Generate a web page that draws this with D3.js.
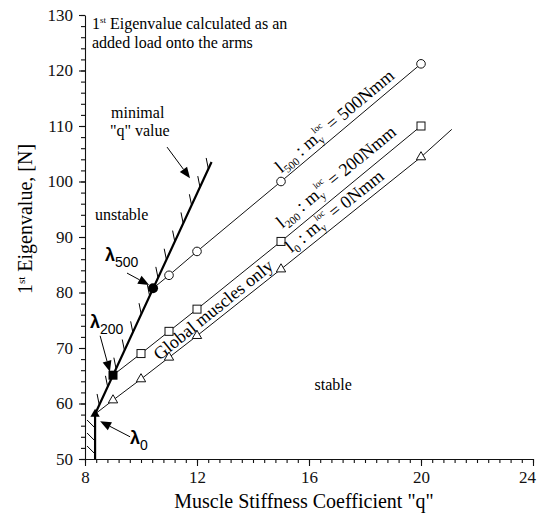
<!DOCTYPE html>
<html>
<head>
<meta charset="utf-8">
<script src="https://cdn.jsdelivr.net/npm/d3@7"></script>
<style>
body { margin: 0; background: #fff; }
svg { font-family: "Liberation Serif", "Times New Roman", serif; }
</style>
</head>
<body>
<div id="chart"></div>
<script>
const qTicks = [8, 12, 16, 20, 24];
const eTicks = [50, 60, 70, 80, 90, 100, 110, 120, 130];

// critical points (minimal q) for l0, l200, l500
const critQ = [8.36, 9.0, 10.43];
const critE = [58.1, 65.1, 80.75];

// l500 series (circles)
const q500 = [11, 12, 15, 20];
const e500 = [83.1, 87.4, 100.0, 121.2];
// l200 series (squares)
const q200 = [10, 11, 12, 15, 20];
const e200 = [69.0, 73.0, 77.0, 89.2, 110.0];
// l0 series (triangles), line runs a bit past the last marker
const q0 = [9, 10, 11, 12, 15, 20];
const e0 = [60.6, 64.4, 68.3, 72.2, 84.2, 104.4];
const q0End = 21.1, e0End = 109.4;

// stability boundary ("minimal q")
const boundQ = [8.36, 8.36, 12.52];
const boundE = [50, 58.1, 103.5];

const width = 540, height = 519;

const x = d3.scaleLinear().domain([8, 24]).range([85, 533]);
const y = d3.scaleLinear().domain([50, 130]).range([459, 15]);

const svg = d3.select("#chart").append("svg")
    .attr("width", width)
    .attr("height", height);

// ---- axes ----
const yMinor = svg.append("g")
    .attr("transform", `translate(${x(8)},0)`)
    .call(d3.axisLeft(y).tickValues(d3.range(50, 131, 2)).tickSize(4).tickSizeOuter(0).tickFormat(""));
yMinor.select(".domain").remove();

const yAxis = svg.append("g")
    .attr("transform", `translate(${x(8)},0)`)
    .call(d3.axisLeft(y).tickValues(eTicks).tickSize(6).tickSizeOuter(0).tickPadding(6));

const xMinor = svg.append("g")
    .attr("transform", `translate(0,${y(50)})`)
    .call(d3.axisBottom(x).tickValues(d3.range(8, 24.01, 0.4)).tickSize(4).tickSizeOuter(0).tickFormat(""));
xMinor.select(".domain").remove();

const xAxis = svg.append("g")
    .attr("transform", `translate(0,${y(50)})`)
    .call(d3.axisBottom(x).tickValues(qTicks).tickSize(7).tickSizeOuter(0).tickPadding(5));
// last label sits at the page edge
xAxis.selectAll(".tick text").filter(d => d === 24).attr("dx", -6);

svg.selectAll(".tick text")
    .style("font-family", "'Liberation Serif', serif")
    .style("font-size", "17px")
    .attr("fill", "#111");
svg.selectAll(".domain, .tick line").attr("stroke", "#111").attr("stroke-width", 1.1);

// axis titles
svg.append("text")
    .attr("x", 304)
    .attr("y", 508)
    .attr("text-anchor", "middle")
    .style("font-size", "20px")
    .text('Muscle Stiffness Coefficient "q"');

const yTitle = svg.append("text")
    .attr("transform", "translate(32,219) rotate(-90)")
    .attr("text-anchor", "middle")
    .style("font-size", "20px");
yTitle.append("tspan").text("1");
yTitle.append("tspan").attr("dy", -7).style("font-size", "11px").text("st");
yTitle.append("tspan").attr("dy", 7).text(" Eigenvalue, [N]");

// ---- lines ----
const line = d3.line().x(d => x(d[0])).y(d => y(d[1]));

const pts500 = [[critQ[2], critE[2]]].concat(q500.map((q, i) => [q, e500[i]]));
const pts200 = [[critQ[1], critE[1]]].concat(q200.map((q, i) => [q, e200[i]]));
const pts0 = [[critQ[0], critE[0]]].concat(q0.map((q, i) => [q, e0[i]]), [[q0End, e0End]]);

[pts500, pts200, pts0].forEach(p => {
    svg.append("path")
        .attr("d", line(p))
        .attr("fill", "none")
        .attr("stroke", "#111")
        .attr("stroke-width", 1);
});

// boundary line
const bound = boundQ.map((q, i) => [q, boundE[i]]);
svg.append("path")
    .attr("d", line(bound))
    .attr("fill", "none")
    .attr("stroke", "#000")
    .attr("stroke-width", 2.2);

// hatching on the unstable side
const hatch = [];
{
    const xa = x(boundQ[0]), ya0 = y(boundE[0]), yb0 = y(boundE[1]);
    for (let yy = ya0 - 5; yy > yb0 + 3; yy -= 13) {
        hatch.push([xa, yy, xa - 8, yy - 8]);
    }
    const x1 = x(boundQ[1]), y1 = y(boundE[1]), x2 = x(boundQ[2]), y2 = y(boundE[2]);
    const L = Math.hypot(x2 - x1, y2 - y1);
    const ux = (x2 - x1) / L, uy = (y2 - y1) / L;
    for (let t = 10; t < L - 2; t += 20) {
        const px = x1 + ux * t, py = y1 + uy * t;
        hatch.push([px, py, px - 2.2, py - 11]);
    }
}
svg.append("g").selectAll("line")
    .data(hatch)
    .join("line")
    .attr("x1", d => d[0]).attr("y1", d => d[1])
    .attr("x2", d => d[2]).attr("y2", d => d[3])
    .attr("stroke", "#000")
    .attr("stroke-width", 1);

// ---- markers ----
const tri = d3.symbol().type(d3.symbolTriangle).size(38);
svg.append("g").selectAll("circle")
    .data(q500.map((q, i) => [q, e500[i]]))
    .join("circle")
    .attr("cx", d => x(d[0])).attr("cy", d => y(d[1]))
    .attr("r", 4.3)
    .attr("fill", "#fff").attr("stroke", "#111").attr("stroke-width", 1);

svg.append("g").selectAll("rect")
    .data(q200.map((q, i) => [q, e200[i]]))
    .join("rect")
    .attr("x", d => x(d[0]) - 4).attr("y", d => y(d[1]) - 4)
    .attr("width", 8).attr("height", 8)
    .attr("fill", "#fff").attr("stroke", "#111").attr("stroke-width", 1);

svg.append("g").selectAll("path")
    .data(q0.map((q, i) => [q, e0[i]]))
    .join("path")
    .attr("d", tri)
    .attr("transform", d => `translate(${x(d[0])},${y(d[1])})`)
    .attr("fill", "#fff").attr("stroke", "#111").attr("stroke-width", 1);

// critical points (filled)
svg.append("path")
    .attr("d", tri)
    .attr("transform", `translate(${x(critQ[0])},${y(critE[0])})`)
    .attr("fill", "#000");
svg.append("rect")
    .attr("x", x(critQ[1]) - 4.5).attr("y", y(critE[1]) - 4.5)
    .attr("width", 9).attr("height", 9)
    .attr("fill", "#000");
svg.append("circle")
    .attr("cx", x(critQ[2])).attr("cy", y(critE[2]))
    .attr("r", 5)
    .attr("fill", "#000");

// ---- labels along lines ----
function alongLine(p, q, off) {
    // p: point on line [q,e], q: another point; returns pos offset by `off` px to the upper-left
    const x1 = x(p[0]), y1 = y(p[1]), x2 = x(q[0]), y2 = y(q[1]);
    const L = Math.hypot(x2 - x1, y2 - y1);
    const ux = (x2 - x1) / L, uy = (y2 - y1) / L;
    const ang = Math.atan2(uy, ux) * 180 / Math.PI;
    return { x: x1 + uy * off, y: y1 - ux * off, ang: ang };
}

function lineLabel(pos, sub, val) {
    const t = svg.append("text")
        .attr("transform", `translate(${pos.x},${pos.y}) rotate(${pos.ang})`)
        .style("font-size", "18px");
    t.append("tspan").text("l");
    t.append("tspan").attr("dy", 4).style("font-size", "11px").text(sub);
    t.append("tspan").attr("dy", -4).text(" : m");
    t.append("tspan").attr("dy", 4).style("font-size", "11px").text("y");
    t.append("tspan").attr("dx", -4).attr("dy", -13).style("font-size", "9px").text("loc");
    t.append("tspan").attr("dy", 9).text(" = " + val);
}

const pA = alongLine([15.15, 100 + 0.15 * 4.24], [20, 121.2], 6);
lineLabel(pA, "500", "500Nmm");
const pB = alongLine([15.25, 89.2 + 0.25 * 4.16], [20, 110.0], 9);
lineLabel(pB, "200", "200Nmm");
const pC = alongLine([15.5, 84.2 + 0.5 * 4.04], [20, 104.4], 6);
lineLabel(pC, "0", "0Nmm");

const pG = alongLine([10.75, 67.1], [12, 72.2], 4);
svg.append("text")
    .attr("transform", `translate(${pG.x},${pG.y}) rotate(${pG.ang})`)
    .style("font-size", "18px")
    .text("Global muscles only");

// ---- annotations ----
const note = svg.append("text")
    .attr("x", x(8.25)).attr("y", y(127.4))
    .style("font-size", "16px");
note.append("tspan").text("1");
note.append("tspan").attr("dy", -6).style("font-size", "9px").text("st");
note.append("tspan").attr("dy", 6).text("   Eigenvalue calculated as an");
svg.append("text")
    .attr("x", x(8.25)).attr("y", y(124))
    .style("font-size", "16px")
    .text("added load onto the arms");

svg.append("text").attr("x", x(8.93)).attr("y", y(111.5)).style("font-size", "16px").text("minimal");
svg.append("text").attr("x", x(8.89)).attr("y", y(108.2)).style("font-size", "16px").text('"q" value');
svg.append("text").attr("x", x(8.36)).attr("y", y(93)).style("font-size", "16px").text("unstable");
svg.append("text").attr("x", x(16.2)).attr("y", y(62.4)).style("font-size", "16px").text("stable");

// lambda markers
const lamQ = [9.61, 8.18, 8.71];
const lamE = [52.7, 73.6, 85.7];
const lamSub = ["0", "200", "500"];
lamQ.forEach((q, i) => {
    const t = svg.append("text")
        .attr("x", x(q)).attr("y", y(lamE[i]))
        .style("font-size", "18px")
        .style("font-weight", "bold")
        .style("font-family", "'Liberation Sans', sans-serif");
    t.append("tspan").text("λ");
    t.append("tspan").attr("dy", 6).style("font-size", "14px").style("font-weight", "normal").text(lamSub[i]);
});

// arrows: [fromQ, fromE, toQ, toE]
const arrows = [
    [10.93, 106.2, 11.75, 100.6],
    [9.5, 83.5, 10.29, 81.35],
    [8.54, 72.2, 8.89, 65.7],
    [9.61, 54.0, 8.54, 56.8]
];
arrows.forEach(a => {
    const x1 = x(a[0]), y1 = y(a[1]), x2 = x(a[2]), y2 = y(a[3]);
    const L = Math.hypot(x2 - x1, y2 - y1);
    const ux = (x2 - x1) / L, uy = (y2 - y1) / L;
    const hl = 11, hw = 4.5;
    const bx = x2 - ux * hl, by = y2 - uy * hl;
    svg.append("line")
        .attr("x1", x1).attr("y1", y1).attr("x2", bx).attr("y2", by)
        .attr("stroke", "#000").attr("stroke-width", 1);
    svg.append("path")
        .attr("d", `M${x2},${y2}L${bx - uy * hw},${by + ux * hw}L${bx + uy * hw},${by - ux * hw}Z`)
        .attr("fill", "#000");
});
</script>
</body>
</html>
